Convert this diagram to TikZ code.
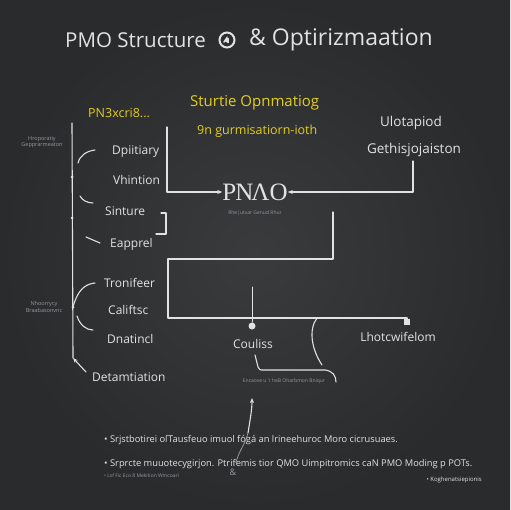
\documentclass[tikz,border=0pt]{standalone}
\usepackage{fontspec}
\setmainfont{Open Sans}
\newfontfamily\pmofont{Liberation Serif}
\usetikzlibrary{arrows.meta,positioning}
\definecolor{boardlight}{RGB}{58,59,61}
\definecolor{boarddark}{RGB}{42,43,45}
\definecolor{chalk}{RGB}{226,226,226}
\definecolor{dimchalk}{RGB}{150,152,158}
\definecolor{marker}{RGB}{228,206,28}
\tikzstyle{wire} = [chalk, line width=1.1pt, line cap=round, line join=round]
\tikzstyle{arrow} = [wire,-{Stealth[length=5pt,width=4pt]}]
\tikzset{
  label/.style={text=chalk, inner sep=0pt, font=\fontsize{12bp}{14bp}\selectfont},
  yellowlabel/.style={text=marker, inner sep=0pt, anchor=west, font=\fontsize{12.5bp}{14bp}\selectfont},
  tiny/.style={text=dimchalk, inner sep=0pt, align=center, font=\fontsize{5.5bp}{6.5bp}\selectfont},
  bullet/.style={text=chalk, inner sep=0pt, anchor=west, font=\fontsize{9.3bp}{11bp}\selectfont},
  heading/.style={text=chalk, inner sep=0pt, font=\fontsize{20.5bp}{24bp}\selectfont},
  knot/.style={circle, fill=chalk, inner sep=0pt, minimum size=7bp},
  speck/.style={circle, fill=chalk, inner sep=0pt, minimum size=3bp}
}
\begin{document}
\begin{tikzpicture}[x=1bp,y={(0bp,-1bp)}]
\useasboundingbox (0,0) rectangle (510,510);
\shade[inner color=boardlight, outer color=boarddark] (0,0) rectangle (510,510);

% title
\node[heading, anchor=west] (title) at (65,40) {PMO Structure};
\node[heading, anchor=west, font=\fontsize{23bp}{24bp}\selectfont] (titleb) at (249,40) {\& Optirizmaation};
\node[circle, draw=chalk, line width=2pt, minimum size=15bp, inner sep=0pt] (icon) at (227,40) {};
\draw[chalk, line width=1.6pt, line cap=round] (icon.center) ++(-3,2) -- ++(2.5,-3.5) -- ++(0,3) ++(1.5,-3) -- ++(0,4);

% yellow notes
\node[yellowlabel] (pnx) at (88,113) {PN3xcri8...};
\node[yellowlabel, font=\fontsize{15bp}{17bp}\selectfont] (sopt) at (190,103) {Sturtie Opnmatiog};
\node[yellowlabel] (sgurm) at (197,131) {9n gurmisatiorn-ioth};

% right notes
\node[label, font=\fontsize{13.5bp}{15bp}\selectfont] (ulot) at (411,123) {Ulotapiod};
\node[label, font=\fontsize{13.5bp}{15bp}\selectfont] (geth) at (414,150) {Gethisjojaiston};

% left side notes
\node[tiny] (hrop) at (42,142) {Hroporatiy\\Gepprarmeaton};
\node[tiny] (nhoo) at (44,307) {Nhoorrycy\\Braabasonvnc};

% branch labels
\node[label, anchor=west] (dpi) at (112,152) {Dpiitiary};
\node[label, anchor=west] (vhi) at (113,180) {Vhintion};
\node[label, anchor=west] (sin) at (105,211) {Sinture};
\node[label, anchor=west] (eap) at (110,244) {Eapprel};
\node[label, anchor=west] (tro) at (104,283) {Tronifeer};
\node[label, anchor=west] (cal) at (108,310) {Califtsc};
\node[label, anchor=west] (dna) at (107,339) {Dnatincl};
\node[label, anchor=west] (det) at (92,377) {Detamtiation};

% centre
\node[text=chalk, inner sep=0pt, font=\pmofont\fontsize{25bp}{28bp}\selectfont] (pmo) at (255,192) {P\kern-1bpN\kern-2bpΛO};
\node[tiny, font=\fontsize{5bp}{6bp}\selectfont] (pmosub) at (255,213) {Rhe|utvar Genud Rhur};
\node[label] (cou) at (253,344) {Couliss};
\node[label] (lho) at (398,337) {Lhotcwifelom};
\node[tiny, font=\fontsize{5bp}{6bp}\selectfont] (enc) at (284,381) {Encaose u 1 heB Oharbmon Bniqur};

% bullets
\node[bullet] (b1) at (104,440) {• Srjstbotirei oſTausfeuo imuol fógá an lrineehuroc Moro cicrusuaes.};
\node[bullet] (b2) at (104,464) {• Srprcte muuotecygirjon. Ptrifemis tior QMO Uimpitromics caN PMO Moding p POTs.};
\node[bullet, text=dimchalk, font=\fontsize{5bp}{6bp}\selectfont] (b3) at (104,476) {• Lsf Fic Eco 8 Mekition Wmcoarl};
\node[bullet, anchor=east, font=\fontsize{6bp}{7bp}\selectfont] (b4) at (482,480) {• Koghenatsiepionis};
\node[text=dimchalk, inner sep=0pt, font=\fontsize{9bp}{10bp}\selectfont] (amp) at (233,472) {\&};

% left spine
\coordinate (spinetop) at (72,123);
\coordinate (spinebot) at (73,358);
\draw[wire] (spinetop) -- (spinebot);
\node[speck] (s1) at (72,177) {};
\node[speck] (s2) at (72,218) {};
\node[speck] (s3) at (73,307) {};
\draw[wire] (78,163) .. controls (80,155) and (87,151) .. (95,150);
\draw[wire] (80,196) .. controls (82,200) and (87,203) .. (93,203);
\draw[wire] (86,237) -- (100,243);
\draw[wire] (s3) .. controls (78,290) and (85,284) .. (95,283);
\draw[wire] (77,316) .. controls (80,325) and (86,330) .. (93,330);
\draw[arrow] (86,372) -- (spinebot);

% right spine into PMO
\coordinate (rtop) at (167,127);
\draw[arrow] (rtop) |- (pmo.west);
\draw[wire] (161,213) -- (166,213) -- (166,234) -- (156,234);
\draw[arrow] (geth.south -| 413,0) ++(0,4) |- (pmo.east);

% PMO down to lower branch
\coordinate (pdown) at (333,212);
\coordinate (lowleft) at (168,259);
\node[knot] (k1) at (252,326) {};
\node[knot, rectangle, minimum size=6bp] (k2) at (407,322) {};
\draw[wire] (pdown) -- (333,259) -- (lowleft) -- (168,318) -| (k2);
\draw[wire, line width=0.6pt] (252,287) -- (k1);
\draw[wire] (317,318) .. controls (308,330) and (312,350) .. (322,365);
\draw[wire] (255,355) -- (258,367) .. controls (259,370) and (260,370) .. (264,370)
  -- (325,370) .. controls (333,371) and (336,376) .. (336,382);

% arrow up from bullets
\draw[arrow] (248,433) .. controls (250,420) and (252,410) .. (252,398);
\draw[dimchalk, line width=0.8pt] (248,433) .. controls (245,445) and (238,452) .. (236,463);
\end{tikzpicture}
\end{document}
